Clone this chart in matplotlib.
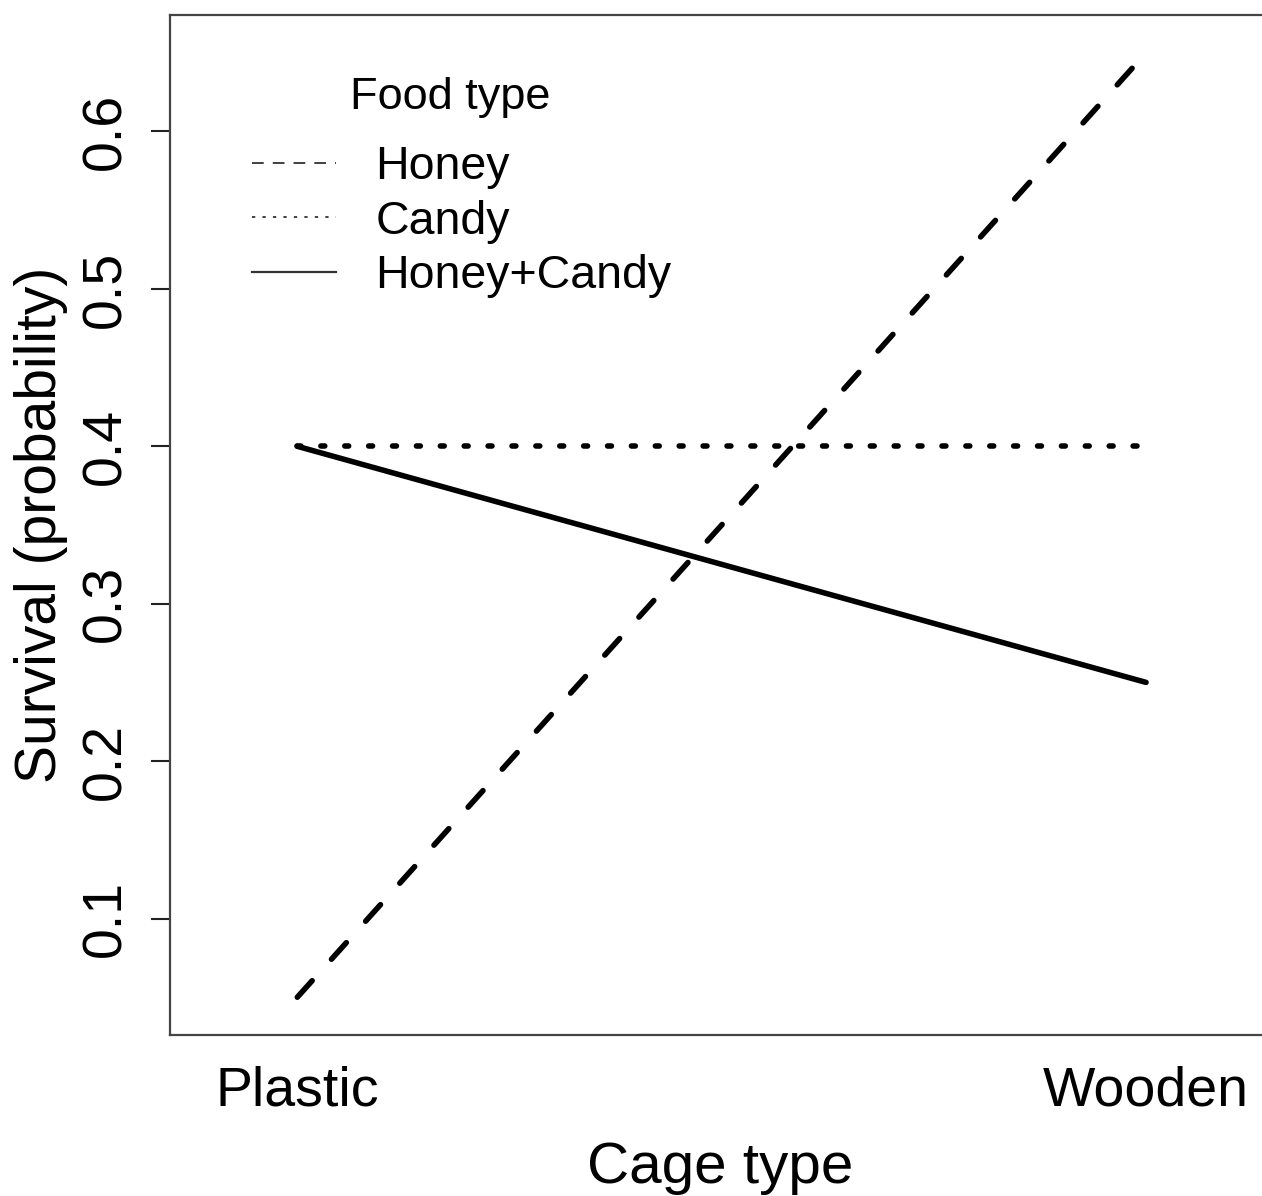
import matplotlib
matplotlib.use("Agg")
import matplotlib.pyplot as plt
from matplotlib.lines import Line2D

plt.rcParams['font.family'] = ['Liberation Sans', 'DejaVu Sans']

cage_types = ["Plastic", "Wooden"]
food_types = ["Honey", "Candy", "Honey+Candy"]
honey = [0.05, 0.65]
candy = [0.40, 0.40]
honey_candy = [0.40, 0.25]
y_ticks = [0.1, 0.2, 0.3, 0.4, 0.5, 0.6]

W, H = 1262, 1196
fig = plt.figure(figsize=(W / 100, H / 100), dpi=100)
left_px, right_px, top_px, bot_px = 170, 1316, 15, 1035
ax_w = right_px - left_px
ax_h = bot_px - top_px
ax = fig.add_axes([left_px / W, 1 - bot_px / H, ax_w / W, ax_h / H])

x = [1, 2]
lw = 4.0
ax.plot(x, honey, color='black', lw=lw, dashes=(4.0, 5.2), dash_capstyle='round', solid_capstyle='round')
ax.plot(x, candy, color='black', lw=lw, dashes=(0.7, 3.6), dash_capstyle='round')
ax.plot(x, honey_candy, color='black', lw=lw, solid_capstyle='round')

ax.set_xlim(0.85, 2.0 + (right_px - 1146) / 849)
ax.set_ylim(0.026, 0.674)

ax.set_xticks(x)
ax.set_xticklabels(cage_types, fontsize=40)
ax.tick_params(axis='x', length=0, pad=22)
ax.set_yticks(y_ticks)
ax.set_yticklabels([f"{v:.1f}" for v in y_ticks], fontsize=40, rotation=90, va='center')
ax.tick_params(axis='y', length=14, width=1.5, color='#222222', pad=13)

for s in ax.spines.values():
    s.set_linewidth(1.6)
    s.set_color('#444444')

ax.set_xlabel("Cage type", fontsize=42, labelpad=17)
ax.xaxis.label.set_x((720 - left_px) / ax_w)
ax.set_ylabel("Survival (probability)", fontsize=41)
ax.yaxis.set_label_coords((68 - left_px) / ax_w, 0.5)

handles = [
    Line2D([], [], color='#333333', lw=1.3, dashes=(6.5, 5.0)),
    Line2D([], [], color='#333333', lw=1.3, dashes=(1.8, 4.0)),
    Line2D([], [], color='#333333', lw=1.6),
]
leg = ax.legend(handles, food_types, loc='upper left',
                bbox_to_anchor=(252 / W, 1 - 145 / H), bbox_transform=fig.transFigure,
                frameon=False, fontsize=33.5, handlelength=1.8,
                handletextpad=0.85, labelspacing=0.23, borderpad=0, borderaxespad=0)
ax.text((350 - left_px) / ax_w, 1 - (97 - top_px) / ax_h, "Food type", transform=ax.transAxes,
        fontsize=32.5, ha='left', va='center')

fig.savefig("out.png", dpi=100)
